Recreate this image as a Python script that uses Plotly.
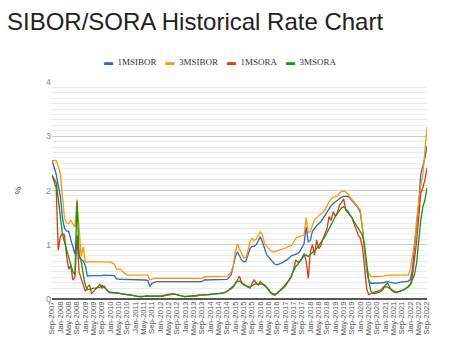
import pandas as pd
import plotly.graph_objects as go

months = list(pd.date_range("2007-09-01", periods=181, freq="MS").strftime("%b-%Y"))
tick_labels = months[::4]

sibor_1m = [
    2.56, 2.45, 2.30, 2.10,
    1.90, 1.50, 1.30, 1.25, 1.25, 1.10, 0.97, 0.83, 1.18, 0.80, 0.73, 0.70,
    0.62, 0.42, 0.43, 0.43, 0.42, 0.42, 0.42, 0.43, 0.43, 0.44, 0.44, 0.44,
    0.44, 0.44, 0.43, 0.37, 0.36, 0.36, 0.36, 0.36, 0.36, 0.35, 0.35, 0.35,
    0.35, 0.35, 0.35, 0.35, 0.35, 0.35, 0.34, 0.23, 0.29, 0.31, 0.32, 0.32,
    0.32, 0.32, 0.32, 0.32, 0.32, 0.32, 0.32, 0.32, 0.32, 0.32, 0.32, 0.32,
    0.32, 0.32, 0.32, 0.32, 0.32, 0.32, 0.32, 0.32, 0.32, 0.35, 0.35, 0.35,
    0.35, 0.35, 0.35, 0.35, 0.35, 0.35, 0.35, 0.35, 0.36, 0.40, 0.45, 0.60,
    0.78, 0.87, 0.80, 0.72, 0.69, 0.69, 0.80, 0.93, 0.97, 0.97, 1.00, 1.08,
    1.15, 1.05, 0.92, 0.82, 0.77, 0.72, 0.67, 0.64, 0.63, 0.64, 0.66, 0.68,
    0.70, 0.73, 0.76, 0.80, 0.81, 0.83, 0.84, 0.88, 0.95, 1.02, 1.33, 1.05,
    1.08, 1.25, 1.30, 1.35, 1.39, 1.42, 1.48, 1.55, 1.62, 1.66, 1.72, 1.76,
    1.79, 1.82, 1.86, 1.88, 1.89, 1.89, 1.89, 1.86, 1.82, 1.77, 1.72, 1.67,
    1.60, 1.30, 0.95, 0.55, 0.35, 0.29, 0.29, 0.29, 0.29, 0.30, 0.30, 0.30,
    0.31, 0.32, 0.31, 0.30, 0.29, 0.29, 0.30, 0.31, 0.32, 0.32, 0.32, 0.33,
    0.36, 0.55, 0.95, 1.30, 1.75, 2.30, 2.45, 2.60, 2.82,
]

sibor_3m = [
    2.52, 2.56, 2.55, 2.45,
    2.30, 1.90, 1.49, 1.40, 1.39, 1.45, 1.38, 1.33, 1.84, 1.24, 0.78, 0.96,
    0.68, 0.69, 0.69, 0.69, 0.69, 0.69, 0.69, 0.69, 0.69, 0.69, 0.68, 0.68,
    0.68, 0.66, 0.64, 0.55, 0.55, 0.55, 0.50, 0.47, 0.44, 0.44, 0.44, 0.44,
    0.44, 0.44, 0.44, 0.44, 0.44, 0.44, 0.44, 0.35, 0.37, 0.38, 0.38, 0.38,
    0.38, 0.38, 0.38, 0.38, 0.38, 0.38, 0.38, 0.38, 0.38, 0.38, 0.38, 0.38,
    0.38, 0.38, 0.38, 0.38, 0.38, 0.38, 0.38, 0.37, 0.38, 0.41, 0.41, 0.41,
    0.41, 0.41, 0.41, 0.41, 0.41, 0.41, 0.41, 0.41, 0.42, 0.45, 0.50, 0.62,
    0.88, 1.01, 0.92, 0.82, 0.76, 0.76, 0.88, 1.05, 1.12, 1.08, 1.10, 1.18,
    1.24, 1.18, 1.03, 0.97, 0.92, 0.89, 0.87, 0.87, 0.89, 0.90, 0.92, 0.93,
    0.94, 0.96, 0.97, 0.99, 1.05, 1.12, 1.14, 1.15, 1.17, 1.18, 1.50, 1.22,
    1.25, 1.35, 1.46, 1.50, 1.53, 1.56, 1.60, 1.64, 1.72, 1.79, 1.84, 1.88,
    1.89, 1.90, 1.95, 1.98, 1.99, 1.97, 1.93, 1.88, 1.85, 1.80, 1.75, 1.68,
    1.64, 1.30, 0.95, 0.58, 0.47, 0.42, 0.41, 0.41, 0.41, 0.41, 0.41, 0.42,
    0.43, 0.44, 0.44, 0.44, 0.44, 0.44, 0.44, 0.44, 0.44, 0.44, 0.44, 0.44,
    0.55, 0.80, 1.03, 1.45, 1.78, 2.10, 2.30, 2.80, 3.17,
]

sora_1m = [
    2.28, 2.15, 2.05, 0.90,
    1.15, 1.20, 1.18, 0.80, 0.55, 0.62, 0.35, 0.40, 1.15, 0.50, 0.38, 0.30,
    0.14, 0.22, 0.26, 0.10, 0.14, 0.18, 0.22, 0.27, 0.20, 0.24, 0.18, 0.13,
    0.12, 0.12, 0.12, 0.11, 0.11, 0.10, 0.09, 0.08, 0.08, 0.07, 0.07, 0.06,
    0.05, 0.05, 0.04, 0.04, 0.05, 0.05, 0.06, 0.05, 0.05, 0.04, 0.04, 0.04,
    0.05, 0.05, 0.06, 0.07, 0.08, 0.08, 0.09, 0.09, 0.08, 0.06, 0.05, 0.04,
    0.04, 0.05, 0.05, 0.05, 0.06, 0.06, 0.06, 0.07, 0.07, 0.07, 0.07, 0.07,
    0.08, 0.09, 0.10, 0.10, 0.10, 0.10, 0.11, 0.12, 0.14, 0.16, 0.19, 0.22,
    0.30, 0.35, 0.42, 0.30, 0.26, 0.24, 0.22, 0.20, 0.28, 0.35, 0.30, 0.26,
    0.32, 0.28, 0.25, 0.22, 0.17, 0.11, 0.08, 0.07, 0.10, 0.13, 0.16, 0.20,
    0.24, 0.30, 0.36, 0.42, 0.55, 0.72, 0.68, 0.70, 0.75, 0.84, 0.70, 0.38,
    0.87, 1.00, 0.81, 1.09, 0.93, 0.98, 1.10, 1.21, 1.30, 1.52, 1.45, 1.61,
    1.52, 1.60, 1.73, 1.78, 1.84, 1.64, 1.60, 1.55, 1.50, 1.38, 1.28, 1.18,
    1.12, 0.96, 0.60, 0.20, 0.08, 0.10, 0.12, 0.13, 0.14, 0.15, 0.17, 0.22,
    0.23, 0.22, 0.20, 0.17, 0.15, 0.13, 0.13, 0.14, 0.16, 0.17, 0.20, 0.23,
    0.28, 0.42, 0.75, 1.05, 1.50, 1.95, 2.05, 2.20, 2.42,
]

sora_3m = [
    2.28, 2.22, 2.15, 1.85,
    1.55, 1.20, 1.05, 0.92, 0.75, 0.65, 0.50, 0.45, 1.80, 0.78, 0.70, 0.45,
    0.25, 0.17, 0.18, 0.20, 0.20, 0.20, 0.21, 0.22, 0.25, 0.22, 0.18, 0.14,
    0.12, 0.12, 0.12, 0.11, 0.11, 0.10, 0.09, 0.09, 0.08, 0.08, 0.07, 0.07,
    0.06, 0.05, 0.05, 0.05, 0.05, 0.06, 0.06, 0.06, 0.05, 0.05, 0.05, 0.05,
    0.05, 0.06, 0.07, 0.08, 0.09, 0.09, 0.10, 0.09, 0.08, 0.07, 0.05, 0.05,
    0.05, 0.05, 0.05, 0.06, 0.06, 0.06, 0.07, 0.07, 0.07, 0.07, 0.08, 0.08,
    0.09, 0.09, 0.10, 0.10, 0.10, 0.11, 0.11, 0.12, 0.14, 0.17, 0.20, 0.24,
    0.28, 0.33, 0.33, 0.30, 0.27, 0.25, 0.23, 0.22, 0.24, 0.27, 0.28, 0.27,
    0.28, 0.27, 0.26, 0.22, 0.17, 0.12, 0.10, 0.09, 0.11, 0.14, 0.18, 0.22,
    0.27, 0.30, 0.36, 0.44, 0.52, 0.60, 0.64, 0.70, 0.76, 0.80, 0.81, 0.78,
    0.82, 0.86, 0.88, 0.93, 0.98, 1.03, 1.10, 1.15, 1.22, 1.30, 1.38, 1.45,
    1.52, 1.58, 1.64, 1.68, 1.70, 1.66, 1.62, 1.55, 1.50, 1.42, 1.36, 1.30,
    1.24, 1.18, 1.00, 0.65, 0.35, 0.15, 0.11, 0.10, 0.11, 0.12, 0.14, 0.18,
    0.26, 0.29, 0.22, 0.16, 0.13, 0.12, 0.13, 0.14, 0.16, 0.18, 0.20, 0.22,
    0.26, 0.34, 0.45, 0.66, 1.10, 1.45, 1.70, 1.82, 2.05,
]

series_names = ["1MSIBOR", "3MSIBOR", "1MSORA", "3MSORA"]
series_values = [sibor_1m, sibor_3m, sora_1m, sora_3m]
series_colors = ["#3366cc", "#ff9900", "#dc3912", "#109618"]
chart_title = "SIBOR/SORA Historical Rate Chart"

fig = go.Figure()
for name, vals, col in zip(series_names, series_values, series_colors):
    fig.add_trace(go.Scatter(x=months, y=vals, mode="lines", name=name,
                             line=dict(color=col, width=1.3), showlegend=False))

legend_html = "&nbsp;&nbsp;&nbsp;&nbsp;".join(
    f'<span style="color:{c}">▬</span>&nbsp;&nbsp;{n}'
    for n, c in zip(series_names, series_colors)
)

fig.update_layout(
    width=474, height=356,
    margin=dict(l=44, r=55, t=74, b=65),
    paper_bgcolor="white", plot_bgcolor="white",
    annotations=[
        dict(text=chart_title, xref="paper", yref="paper",
             x=-0.125, y=1.281, xanchor="left", yanchor="middle", showarrow=False,
             font=dict(family="Liberation Sans, Arial", size=24, color="#222")),
        dict(text=legend_html, xref="paper", yref="paper",
             x=0.448, y=1.092, xanchor="center", yanchor="middle",
             showarrow=False,
             font=dict(family="Liberation Serif, Times New Roman", size=9, color="#333")),
    ],
    xaxis=dict(type="category", range=[0, 180], automargin=False,
               tickmode="array", tickvals=tick_labels, ticktext=tick_labels,
               tickangle=-90, tickfont=dict(family="Liberation Sans, Arial", size=7.6, color="#555"),
               showgrid=False, showline=False, ticks=""),
    yaxis=dict(range=[0, 4], dtick=1, showgrid=True, gridcolor="#cccccc", gridwidth=1,
               automargin=False,
               minor=dict(dtick=0.1, showgrid=True, gridcolor="#ebebeb", gridwidth=1),
               zeroline=True, zerolinecolor="#555", zerolinewidth=1.5,
               tickfont=dict(family="Liberation Sans, Arial", size=9, color="#888"),
               title=dict(text="%", font=dict(family="Liberation Sans, Arial", size=9, color="#444"),
                          standoff=22)),
)

fig.write_html("out.html")
